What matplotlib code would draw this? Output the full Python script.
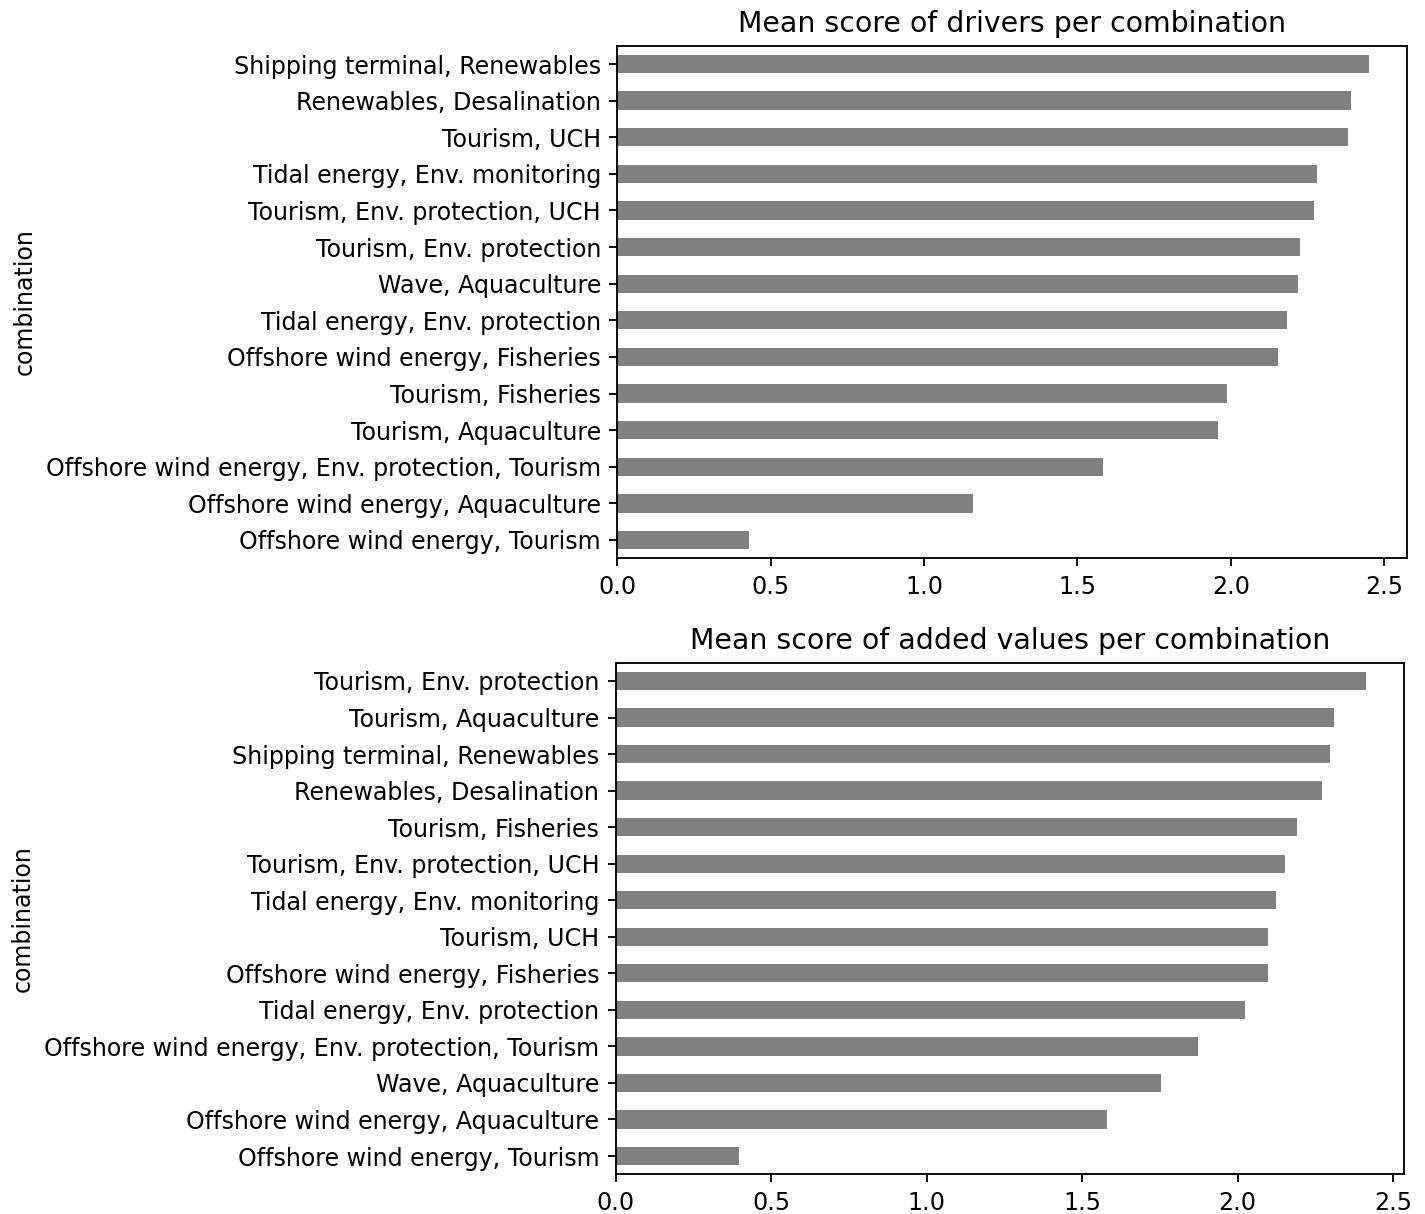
import matplotlib
matplotlib.use("Agg")
import matplotlib.pyplot as plt

# Top chart (listed top to bottom as in the picture)
drivers_labels = [
    "Shipping terminal, Renewables",
    "Renewables, Desalination",
    "Tourism, UCH",
    "Tidal energy, Env. monitoring",
    "Tourism, Env. protection, UCH",
    "Tourism, Env. protection",
    "Wave, Aquaculture",
    "Tidal energy, Env. protection",
    "Offshore wind energy, Fisheries",
    "Tourism, Fisheries",
    "Tourism, Aquaculture",
    "Offshore wind energy, Env. protection, Tourism",
    "Offshore wind energy, Aquaculture",
    "Offshore wind energy, Tourism",
]
drivers_values = [2.451, 2.391, 2.383, 2.281, 2.272, 2.225, 2.219, 2.183,
                  2.154, 1.987, 1.959, 1.582, 1.159, 0.428]

# Bottom chart (listed top to bottom as in the picture)
added_labels = [
    "Tourism, Env. protection",
    "Tourism, Aquaculture",
    "Shipping terminal, Renewables",
    "Renewables, Desalination",
    "Tourism, Fisheries",
    "Tourism, Env. protection, UCH",
    "Tidal energy, Env. monitoring",
    "Tourism, UCH",
    "Offshore wind energy, Fisheries",
    "Tidal energy, Env. protection",
    "Offshore wind energy, Env. protection, Tourism",
    "Wave, Aquaculture",
    "Offshore wind energy, Aquaculture",
    "Offshore wind energy, Tourism",
]
added_values = [2.414, 2.311, 2.298, 2.270, 2.191, 2.151, 2.122, 2.099,
                2.097, 2.024, 1.871, 1.753, 1.581, 0.397]

titles = ["Mean score of drivers per combination",
          "Mean score of added values per combination"]

plt.rcParams["font.size"] = 10.2

W, H = 1426, 1214
DPI = 168
fig = plt.figure(figsize=(W / DPI, H / DPI), dpi=DPI)

ax1 = fig.add_axes([617.3 / W, 1 - 558.3 / H, 789.4 / W, 512.6 / H])
ax2 = fig.add_axes([615.7 / W, 1 - 1174.3 / H, 788.3 / W, 511.6 / H])

for ax, labels, values, title in [(ax1, drivers_labels, drivers_values, titles[0]),
                                  (ax2, added_labels, added_values, titles[1])]:
    labs = labels[::-1]
    vals = values[::-1]
    ypos = list(range(len(labs)))
    ax.barh(ypos, vals, height=0.5, color="gray")
    ax.set_yticks(ypos)
    ax.set_yticklabels(labs)
    ax.set_ylim(-0.5, len(labs) - 0.5)
    ax.set_ylabel("combination")
    ax.set_title(title, fontsize=12.15)

fig.savefig("out.png", dpi=DPI)
